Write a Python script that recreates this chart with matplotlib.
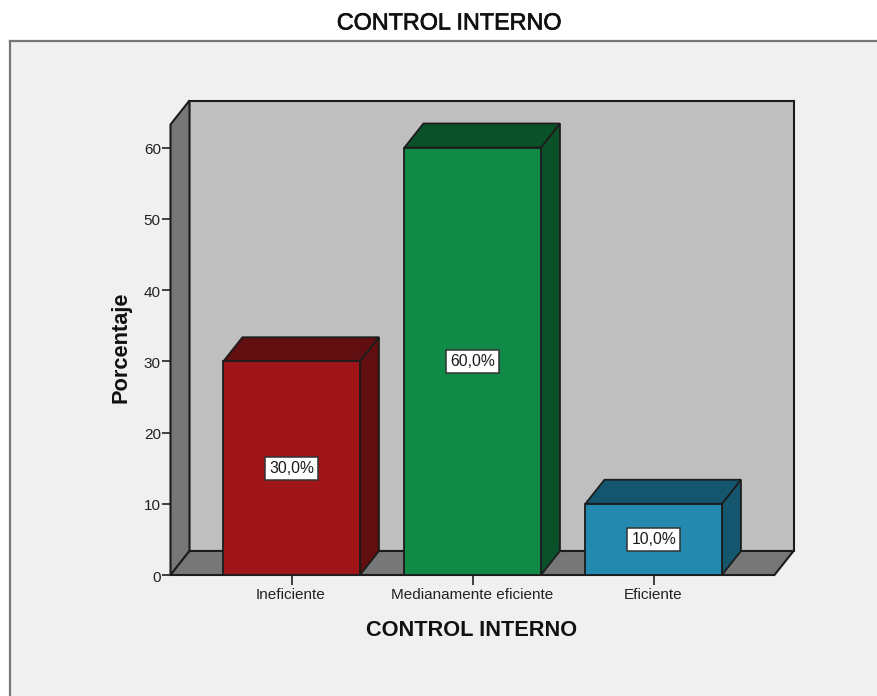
import matplotlib
matplotlib.use("Agg")
import matplotlib.pyplot as plt
from matplotlib.patches import Polygon
from matplotlib.transforms import ScaledTranslation
import matplotlib.patheffects as pe

categories = ["Ineficiente", "Medianamente eficiente", "Eficiente"]
values = [30, 60, 10]
labels = ["30,0%", "60,0%", "10,0%"]
front_colors = ["#a01517", "#108a47", "#2389ae"]
side_colors = ["#600e10", "#0a5029", "#15566f"]
top_colors = ["#600e10", "#0a5029", "#15566f"]
y_ticks = [0, 10, 20, 30, 40, 50, 60]
title = "CONTROL INTERNO"
x_label = "CONTROL INTERNO"
y_label = "Porcentaje"

W, H = 877, 696
plt.rcParams["font.family"] = ["Liberation Sans", "DejaVu Sans"]
fig = plt.figure(figsize=(W / 100, H / 100), dpi=100, facecolor="white")

# outer panel
panel = fig.add_axes([9.5 / W, 0, 1 - 9.5 / W, 1 - 40.5 / H])
panel.set_facecolor("#f0f0f0")
panel.set_xticks([]); panel.set_yticks([])
for s in ("right", "bottom"):
    panel.spines[s].set_visible(False)
for s in ("left", "top"):
    panel.spines[s].set_color("#777777")
    panel.spines[s].set_linewidth(1.6)

# front plane of the 3-D frame
L, R, B, T = 170.5, 774.5, 575.0, 124.5
ax = fig.add_axes([L / W, 1 - B / H, (R - L) / W, (B - T) / H])
ax.patch.set_alpha(0)
PX_X = 181.0          # pixels per category
PX_Y = 7.125          # pixels per percent
x0 = -(291.7 - L) / PX_X
ax.set_xlim(x0, x0 + (R - L) / PX_X)
ax.set_ylim(0, (B - T) / PX_Y)
DX, DY = 19 / PX_X, 24 / PX_Y
BAR_W = 136.5 / PX_X
xa, xb = ax.get_xlim()
ya, yb = ax.get_ylim()

EDGE = "#1c1c1c"
def poly(points, color, z, lw=1.3):
    ax.add_patch(Polygon(points, closed=True, facecolor=color, edgecolor=EDGE,
                         linewidth=lw, clip_on=False, zorder=z, joinstyle="miter"))

poly([(xa + DX, DY), (xb + DX, DY), (xb + DX, yb + DY), (xa + DX, yb + DY)], "#bfbfbf", 1, 1.5)
poly([(xa, 0), (xa + DX, DY), (xa + DX, yb + DY), (xa, yb)], "#777777", 2, 1.5)
poly([(xa, 0), (xb, 0), (xb + DX, DY), (xa + DX, DY)], "#777777", 2, 1.5)

for i, (v, lab, cf, cs, ct) in enumerate(zip(values, labels, front_colors, side_colors, top_colors)):
    l, r = i - BAR_W / 2, i + BAR_W / 2
    poly([(r, 0), (r + DX, DY), (r + DX, v + DY), (r, v)], cs, 3)
    poly([(l, v), (r, v), (r + DX, v + DY), (l + DX, v + DY)], ct, 3)
    ax.bar(i, v, width=BAR_W, color=cf, edgecolor=EDGE, linewidth=1.3, zorder=4, clip_on=False)
    ax.text(i, v / 2, lab, ha="center", va="center", fontsize=11.3, color="#1a1a1a", zorder=6,
            bbox=dict(boxstyle="square,pad=0.25", facecolor="white", edgecolor="#333333", linewidth=1.1))

for s in ax.spines.values():
    s.set_visible(False)
ax.set_yticks(y_ticks)
ax.set_xticks(range(len(categories)))
ax.set_xticklabels(categories)
ax.tick_params(axis="y", length=6.5, width=1.2, color="#222222", labelsize=11, pad=0.5, labelcolor="#222222")
ax.tick_params(axis="x", length=7.2, width=1.2, color="#222222", labelsize=11, pad=2.5, labelcolor="#222222")
down = ScaledTranslation(0, -1 / 100, fig.dpi_scale_trans)
for t in ax.get_yticklabels():
    t.set_transform(t.get_transform() + down)
left = ScaledTranslation(-1 / 100, 0, fig.dpi_scale_trans)
for t in ax.get_xticklabels():
    t.set_transform(t.get_transform() + left)

t = fig.text(449 / W, 1 - 23 / H, title, ha="center", va="center", fontsize=16.8, color="#111111")
t.set_path_effects([pe.withStroke(linewidth=0.5, foreground="#111111")])
fig.text(472 / W, 1 - 630.5 / H, x_label, ha="center", va="center", fontsize=15.7, fontweight="bold", color="#111111")
fig.text(121 / W, 1 - 347.5 / H, y_label, ha="center", va="center", rotation=90, fontsize=15.7, fontweight="bold", color="#111111")

fig.savefig("out.png", dpi=100, facecolor="white")
